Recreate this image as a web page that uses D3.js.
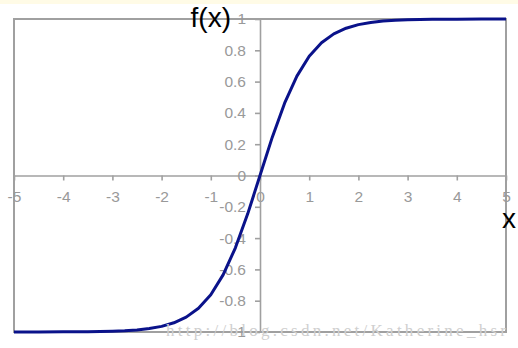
<!DOCTYPE html>
<html>
<head>
  <meta charset="UTF-8">
  <script src="https://d3js.org/d3.v7.min.js"></script>
  <style>
    body { margin: 0; background: #fff; }
    svg { display: block; }
  </style>
</head>
<body>
  <div id="chart"></div>
  <script>
    // values (f(x) against x)
    const xs = [-5, -4.5, -4, -3.5, -3, -2.75, -2.5, -2.25, -2, -1.75, -1.5, -1.25, -1, -0.75, -0.5, -0.25,
                0, 0.25, 0.5, 0.75, 1, 1.25, 1.5, 1.75, 2, 2.25, 2.5, 2.75, 3, 3.5, 4, 4.5, 5];
    const ys = [-1, -1, -0.999, -0.998, -0.995, -0.992, -0.987, -0.978, -0.964, -0.941, -0.905, -0.848, -0.762, -0.635, -0.462, -0.245,
                0, 0.245, 0.462, 0.635, 0.762, 0.848, 0.905, 0.941, 0.964, 0.978, 0.987, 0.992, 0.995, 0.998, 0.999, 1, 1];
    const xTicks = [-5, -4, -3, -2, -1, 0, 1, 2, 3, 4, 5];
    const yTicks = [-1, -0.8, -0.6, -0.4, -0.2, 0, 0.2, 0.4, 0.6, 0.8, 1];

    const width = 518, height = 348;
    const plotL = 14, plotR = 506, plotT = 19, plotB = 332;
    const grey = "#a0a0a0";
    const labelFont = "Arial, 'Liberation Sans', sans-serif";

    const svg = d3.select("#chart").append("svg")
      .attr("width", width)
      .attr("height", height);

    // faint yellow strip at the very top
    svg.append("rect").attr("x", 0).attr("y", 0).attr("width", width).attr("height", 4)
      .attr("fill", "#fffbe6");

    const x = d3.scaleLinear().domain([-5, 5]).range([plotL, plotR]);
    const y = d3.scaleLinear().domain([-1, 1]).range([plotB, plotT]);

    // plot frame
    svg.append("rect")
      .attr("x", plotL).attr("y", plotT)
      .attr("width", plotR - plotL).attr("height", plotB - plotT)
      .attr("fill", "none").attr("stroke", grey).attr("stroke-width", 2);

    // axes through the origin
    const xAxis = d3.axisBottom(x).tickValues(xTicks).tickSize(5).tickSizeOuter(0);
    const gx = svg.append("g").attr("transform", `translate(0,${y(0)})`).call(xAxis);
    gx.select(".domain").attr("stroke", grey).attr("stroke-width", 1.6);
    gx.selectAll(".tick line").attr("stroke", grey).attr("stroke-width", 1.6);
    gx.selectAll(".tick text")
      .attr("fill", "#999").attr("y", 26).attr("dy", null)
      .style("font-family", labelFont).style("font-size", "15.5px")
      .text(d => d < 0 ? "-" + Math.abs(d) : d);

    const yAxis = d3.axisLeft(y).tickValues(yTicks).tickSize(5).tickSizeOuter(0);
    const gy = svg.append("g").attr("transform", `translate(${x(0)},0)`).call(yAxis);
    gy.select(".domain").attr("stroke", grey).attr("stroke-width", 1.6);
    gy.selectAll(".tick line").attr("stroke", grey).attr("stroke-width", 1.6);
    gy.selectAll(".tick text")
      .attr("fill", "#999").attr("x", -14)
      .style("font-family", labelFont).style("font-size", "15.5px")
      .text(d => d < 0 ? "-" + Math.abs(d) : String(d));

    // curve
    const pts = xs.map((v, i) => [v, ys[i]]);
    svg.append("path")
      .datum(pts)
      .attr("fill", "none")
      .attr("stroke", "#0a128a")
      .attr("stroke-width", 3)
      .attr("stroke-linejoin", "round")
      .attr("d", d3.line().x(d => x(d[0])).y(d => y(d[1])));

    // axis titles
    svg.append("text")
      .attr("x", 231).attr("y", 27)
      .attr("text-anchor", "end")
      .style("font-family", labelFont).style("font-size", "28px")
      .text("f(x)");
    svg.append("text")
      .attr("x", 509).attr("y", 228)
      .attr("text-anchor", "middle")
      .style("font-family", labelFont).style("font-size", "28px")
      .text("x");

    // watermark
    svg.append("text")
      .attr("x", 166).attr("y", 336)
      .attr("textLength", 340)
      .attr("fill", "#cfcfcf")
      .style("font-family", "'Liberation Serif', 'DejaVu Serif', serif").style("font-size", "17px")
      .text("http://blog.csdn.net/Katherine_hsr");
  </script>
</body>
</html>
